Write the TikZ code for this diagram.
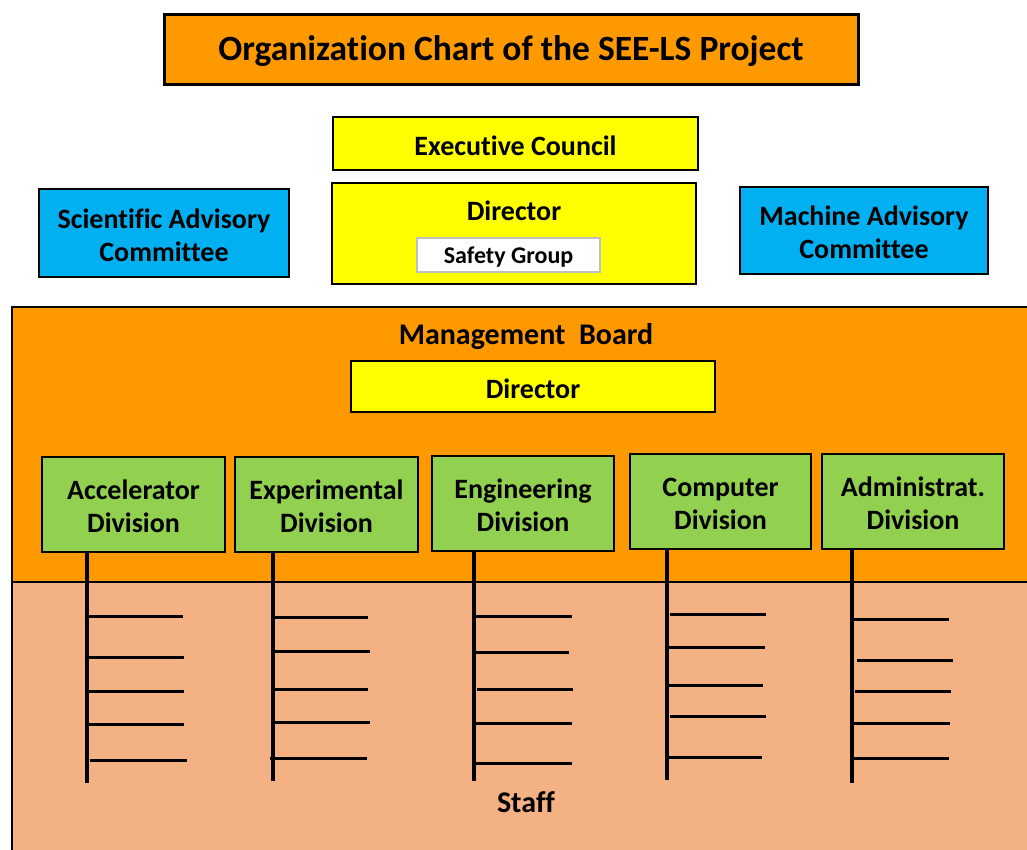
\documentclass[tikz,border=0pt]{standalone}
\usepackage{fontspec}
\setmainfont{Carlito}[Ligatures=CommonOff]
\definecolor{orgorange}{HTML}{FF9900}
\definecolor{orgyellow}{HTML}{FFFF00}
\definecolor{orgblue}{HTML}{00B0F0}
\definecolor{orggreen}{HTML}{92D050}
\definecolor{orgsalmon}{HTML}{F4B183}
% name, x1, y1, x2, y2, style, text  (box drawn empty, text placed 2px lower than centre)
\newcommand\bx[7]{%
  \pgfmathsetmacro\cx{(#2+#4)/2}\pgfmathsetmacro\cy{(#3+#5)/2}%
  \pgfmathsetmacro\ww{#4-#2}\pgfmathsetmacro\hh{#5-#3}%
  \node[#6, minimum width=\ww pt, minimum height=\hh pt] (#1) at (\cx,\cy) {};
  \node[#6, draw=none, fill=none, inner sep=0pt] (#1-text) at ([yshift=-2pt]#1.center) {#7};}
\begin{document}
\begin{tikzpicture}[x=1pt,y=-1pt,
  base/.style={draw=black, line width=2.5pt, inner sep=0pt, outer sep=0pt, align=center, font=\bfseries\fontsize{28}{33}\selectfont},
  titlebox/.style={base, fill=orgorange, line width=3pt, font=\bfseries\fontsize{35.5}{42}\selectfont},
  yelbox/.style={base, fill=orgyellow},
  bluebox/.style={base, fill=orgblue},
  greenbox/.style={base, fill=orggreen},
  safebox/.style={draw=black!25, line width=1.2pt, fill=white, inner sep=0pt, font=\bfseries\fontsize{24}{28}\selectfont},
  txt/.style={inner sep=0pt, font=\bfseries\fontsize{28}{33}\selectfont},
  bigtxt/.style={inner sep=0pt, font=\bfseries\fontsize{30}{36}\selectfont},
  rung/.style={line width=3pt},
  stem/.style={line width=3.5pt}]
\useasboundingbox (0,0) rectangle (1027,849);
\clip (0,0) rectangle (1027,849);
\fill[white] (0,0) rectangle (1027,849);
% board and staff regions
\bx{board}{12}{307}{1040}{582}{base, fill=orgorange}{}
\bx{staff}{12}{582}{1040}{870}{base, fill=orgsalmon}{}
\node[bigtxt] (mbtext) at (526,337) {Management\ \ Board};
\node[bigtxt] (stafftext) at (526,802) {Staff};
% top
\bx{title}{164}{14}{858}{84}{titlebox}{Organization Chart of the SEE-LS Project}
\bx{exec}{333}{117}{698}{170}{yelbox}{Executive Council}
\bx{dir}{332}{183}{696}{284}{yelbox}{}
\node[txt] (dirtext) at (514,211) {Director};
\bx{safety}{417}{238}{600}{272}{safebox}{Safety Group}
\bx{sci}{39}{189}{289}{277}{bluebox}{Scientific Advisory\\Committee}
\bx{mach}{740}{187}{988}{274}{bluebox}{Machine Advisory\\Committee}
\bx{dir2}{351}{361}{715}{412}{yelbox}{Director}
% divisions
\bx{acc}{42}{457}{225}{552}{greenbox}{Accelerator\\Division}
\bx{exp}{235}{457}{418}{552}{greenbox}{Experimental\\Division}
\bx{eng}{432}{456}{614}{551}{greenbox}{Engineering\\Division}
\bx{comp}{630}{454}{811}{549}{greenbox}{Computer\\Division}
\bx{adm}{822}{454}{1004}{549}{greenbox}{Administrat.\\Division}
% stems
\coordinate (accE) at (87,783);
\coordinate (expE) at (273,781);
\coordinate (engE) at (474,781);
\coordinate (compE) at (667,780);
\coordinate (admE) at (852,783);
\draw[stem] (acc.south -| accE) -- (accE);
\draw[stem] (exp.south -| expE) -- (expE);
\draw[stem] (eng.south -| engE) -- (engE);
\draw[stem] (comp.south -| compE) -- (compE);
\draw[stem] (adm.south -| admE) -- (admE);
% rungs: x-start / y / x-end
\foreach \xa/\y/\xb [count=\i] in {87/616/183, 87/657/184, 87/691/184, 87/724/184, 90/760/187} {
  \coordinate (accR\i) at (\xb,\y); \draw[rung] (\xa,\y) -- (accR\i);}
\foreach \xa/\y/\xb [count=\i] in {273/617/368, 273/651/370, 273/689/368, 273/722/370, 270/758/367} {
  \coordinate (expR\i) at (\xb,\y); \draw[rung] (\xa,\y) -- (expR\i);}
\foreach \xa/\y/\xb [count=\i] in {474/616/572, 474/652/569, 477/689/573, 474/723/572, 474/763/572} {
  \coordinate (engR\i) at (\xb,\y); \draw[rung] (\xa,\y) -- (engR\i);}
\foreach \xa/\y/\xb [count=\i] in {670/614/766, 667/647/765, 667/685/763, 670/716/766, 667/757/762} {
  \coordinate (compR\i) at (\xb,\y); \draw[rung] (\xa,\y) -- (compR\i);}
\foreach \xa/\y/\xb [count=\i] in {852/619/949, 857/660/953, 855/691/951, 852/723/950, 852/758/949} {
  \coordinate (admR\i) at (\xb,\y); \draw[rung] (\xa,\y) -- (admR\i);}
\end{tikzpicture}
\end{document}
